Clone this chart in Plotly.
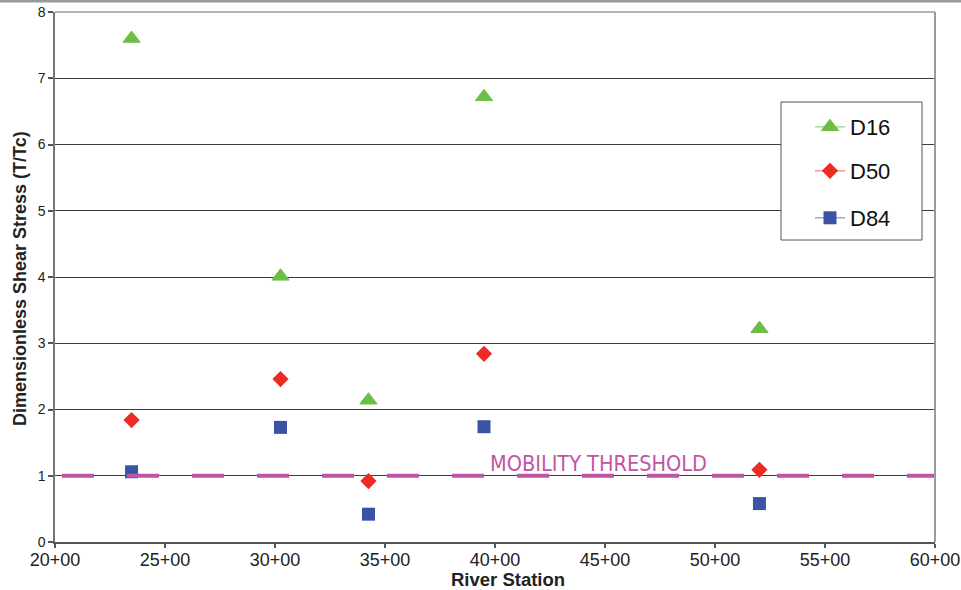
import plotly.graph_objects as go

# River stations (feet) and dimensionless shear stress ratios (T/Tc)
stations = [2348, 3025, 3425, 3950, 5202]
d16 = [7.60, 4.01, 2.14, 6.72, 3.22]
d50 = [1.84, 2.46, 0.92, 2.84, 1.09]
d84 = [1.06, 1.73, 0.42, 1.74, 0.58]

threshold = 1.0
threshold_label = "MOBILITY THRESHOLD"

x_ticks = list(range(2000, 6001, 500))
x_tick_text = [f"{v // 100}+{v % 100:02d}" for v in x_ticks]
y_ticks = list(range(0, 9))

series = [
    ("D16", d16, "#6CBE45", "#A9D992", "triangle-up", 15),
    ("D50", d50, "#EE2A24", "#F39A95", "diamond", 12.5),
    ("D84", d84, "#3A53A4", "#9AA6D2", "square", 13),
]

fig = go.Figure()

for i, (name, vals, color, light, symbol, size) in enumerate(series):
    edge = 1 if symbol == "triangle-up" else 0
    # plotted points (markers only)
    fig.add_trace(go.Scatter(
        x=stations, y=vals, mode="markers", name=name, showlegend=False,
        marker=dict(symbol=symbol, size=size, color=color,
                    line=dict(width=edge, color=color)),
        cliponaxis=False,
    ))
    # legend entry with connecting-line sample
    fig.add_trace(go.Scatter(
        x=[None], y=[None], mode="lines+markers", name=name,
        legend="legend" if i == 0 else f"legend{i + 1}",
        line=dict(color=light, width=1.5),
        marker=dict(symbol=symbol, size=size, color=color,
                    line=dict(width=edge, color=color)),
    ))

W, H = 961, 590
L, R, T, B = 55, 26, 12, 48
pw, ph = W - L - R, H - T - B


def px_x(p):
    return (p - L) / pw


def px_y(p):
    return (H - B - p) / ph


legend_common = dict(
    font=dict(family="Liberation Sans, Arial, sans-serif", size=22, color="#111"),
    bgcolor="rgba(0,0,0,0)", borderwidth=0,
    xanchor="left", yanchor="middle", x=px_x(810),
)

shapes = [
    # mobility threshold dashed line
    dict(type="line", xref="paper", yref="y", x0=px_x(62), x1=1,
         y0=threshold, y1=threshold,
         line=dict(color="#C055A5", width=4, dash="32px,33px"), layer="above"),
    # plot frame: top and right
    dict(type="line", xref="paper", yref="paper", x0=0, x1=1, y0=1, y1=1,
         line=dict(color="#9a9a9a", width=1.5)),
    dict(type="line", xref="paper", yref="paper", x0=1, x1=1, y0=0, y1=1,
         line=dict(color="#9a9a9a", width=2)),
    # band along the top edge of the figure
    dict(type="line", xref="paper", yref="paper", x0=-L / pw, x1=1 + R / pw,
         y0=1 + (T - 1) / ph, y1=1 + (T - 1) / ph,
         line=dict(color="#9a9a9a", width=3)),
    # legend box
    dict(type="rect", xref="paper", yref="paper",
         x0=px_x(781), x1=px_x(922), y0=px_y(240), y1=px_y(102),
         fillcolor="white", line=dict(color="#555", width=1), layer="above"),
]

annotations = [
    dict(text=threshold_label, xref="paper", yref="y", x=px_x(598), y=threshold,
         xanchor="center", yanchor="bottom", yshift=-2, showarrow=False,
         font=dict(family="DejaVu Sans Condensed, Liberation Sans Narrow, sans-serif",
                   size=21.5, color="#C055A5")),
    dict(text="<b>River Station</b>", xref="paper", yref="paper",
         x=px_x(508), y=px_y(579), xanchor="center", yanchor="middle", showarrow=False,
         font=dict(family="Liberation Sans, Arial, sans-serif", size=18.5, color="#222")),
    dict(text="<b>Dimensionless Shear Stress (T/Tc)</b>", xref="paper", yref="paper",
         x=px_x(20), y=px_y(279), xanchor="center", yanchor="middle", showarrow=False,
         textangle=-90,
         font=dict(family="Liberation Sans, Arial, sans-serif", size=18, color="#222")),
]

fig.update_layout(
    width=W, height=H,
    margin=dict(l=L, r=R, t=T, b=B, pad=0, autoexpand=False),
    paper_bgcolor="white", plot_bgcolor="white",
    font=dict(family="Liberation Sans, Arial, sans-serif", color="#222"),
    xaxis=dict(
        range=[2000, 6000], tickvals=x_ticks, ticktext=x_tick_text,
        showgrid=False, zeroline=False, automargin=False,
        showline=True, linecolor="#555", linewidth=1.5,
        ticks="outside", ticklen=4, tickcolor="#555", tickwidth=1.5,
        ticklabelstandoff=-3,
        tickfont=dict(size=18, color="#222"),
    ),
    yaxis=dict(
        range=[0, 8], tickvals=y_ticks, automargin=False,
        showgrid=True, gridcolor="#3c3c3c", gridwidth=1, zeroline=False,
        showline=True, linecolor="#777", linewidth=1.5,
        ticks="outside", ticklen=5, tickcolor="#555", tickwidth=1.5,
        tickfont=dict(size=14, color="#222"),
    ),
    legend=dict(legend_common, y=px_y(127)),
    legend2=dict(legend_common, y=px_y(171)),
    legend3=dict(legend_common, y=px_y(218)),
    shapes=shapes,
    annotations=annotations,
)

fig.write_html("out.html")
